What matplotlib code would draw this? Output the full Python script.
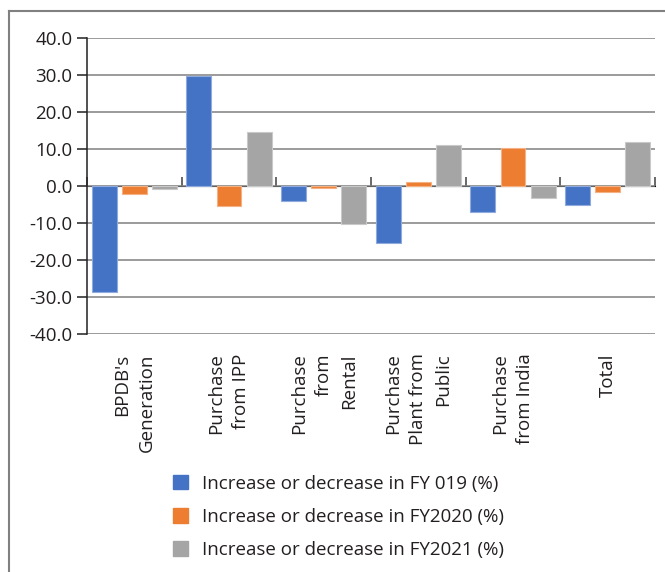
import matplotlib
matplotlib.use("Agg")
import matplotlib.pyplot as plt
import numpy as np
from matplotlib.patches import Patch
from matplotlib.lines import Line2D

plt.rcParams['font.family'] = ['Open Sans', 'DejaVu Sans']

categories = ["BPDB's\nGeneration", "Purchase\nfrom IPP", "Purchase\nfrom\nRental",
              "Purchase\nPlant from\nPublic", "Purchase\nfrom India", "Total"]
series_names = ["Increase or decrease in FY 019 (%)",
                "Increase or decrease in FY2020 (%)",
                "Increase or decrease in FY2021 (%)"]
fy2019 = [-28.7, 29.8, -4.1, -15.3, -6.9, -5.0]
fy2020 = [-2.2, -5.5, -0.5, 1.0, 10.2, -1.5]
fy2021 = [-0.7, 14.5, -10.4, 11.2, -3.3, 11.9]
y_ticks = [-40, -30, -20, -10, 0, 10, 20, 30, 40]

colors = ["#4472C4", "#ED7D31", "#A5A5A5"]
edges = ["#8FAADC", "#F4B183", "#C9C9C9"]
text_color = "#231F20"
fs = 13.5

W, H = 665, 572
fig = plt.figure(figsize=(W / 100, H / 100), dpi=100)
ax = fig.add_axes([87 / W, 1 - 334 / H, (655 - 87) / W, (334 - 38) / H])

x = np.arange(len(categories))
width = 0.264
step = 0.317
for j, vals in enumerate([fy2019, fy2020, fy2021]):
    ax.bar(x + (j - 1) * step, vals, width, color=colors[j],
           edgecolor=edges[j], linewidth=0.8, zorder=3)

ax.set_xlim(-0.5, len(categories) - 0.5)
ax.set_ylim(-40, 40)
ax.set_yticks(y_ticks)
ax.set_yticklabels([f"{v:.1f}" for v in y_ticks])
ax.yaxis.grid(True, color="#808080", linewidth=1.1, zorder=0)
ax.set_axisbelow(True)

for s in ["top", "right", "bottom"]:
    ax.spines[s].set_visible(False)
ax.spines["left"].set_color("#231F20")
ax.spines["left"].set_linewidth(1.1)
ax.spines["left"].set_zorder(4)
ax.tick_params(axis="y", length=7, width=1.1, color="#231F20", pad=3.5,
               labelsize=fs, labelcolor=text_color)

# category labels below the plot area
ax.set_xticks(x)
ax.set_xticklabels(categories, rotation=90, ha="center", va="top",
                   multialignment="right", linespacing=1.5)
ax.tick_params(axis="x", length=0, pad=14, labelsize=fs, labelcolor=text_color)

# zero line with category boundary ticks
zero = ax.secondary_xaxis(0.5)
zero.set_xticks(np.arange(-0.5, len(categories), 1.0))
zero.set_xticklabels([])
zero.tick_params(axis="x", length=6.5, width=1.1, color="#404040", direction="out")
zero.spines["bottom"].set_color("#404040")
zero.spines["bottom"].set_linewidth(1.1)
zero.spines["bottom"].set_zorder(4)

handles = [Patch(facecolor=c, edgecolor=c) for c in colors]
fig.legend(handles, series_names, loc="upper left",
           bbox_to_anchor=(165 / W, 1 - 467 / H), frameon=False,
           fontsize=fs, labelcolor=text_color, handlelength=0.85,
           handleheight=0.85, handletextpad=0.7, labelspacing=0.81,
           borderaxespad=0)

# outer frame
fig.add_artist(Line2D([8.5 / W, 8.5 / W], [0, 1 - 11 / H], transform=fig.transFigure,
                      color="#808080", linewidth=1.5))
fig.add_artist(Line2D([8.5 / W, 1], [1 - 11 / H, 1 - 11 / H], transform=fig.transFigure,
                      color="#808080", linewidth=1.5))

fig.savefig("out.png", dpi=100, facecolor="white")
